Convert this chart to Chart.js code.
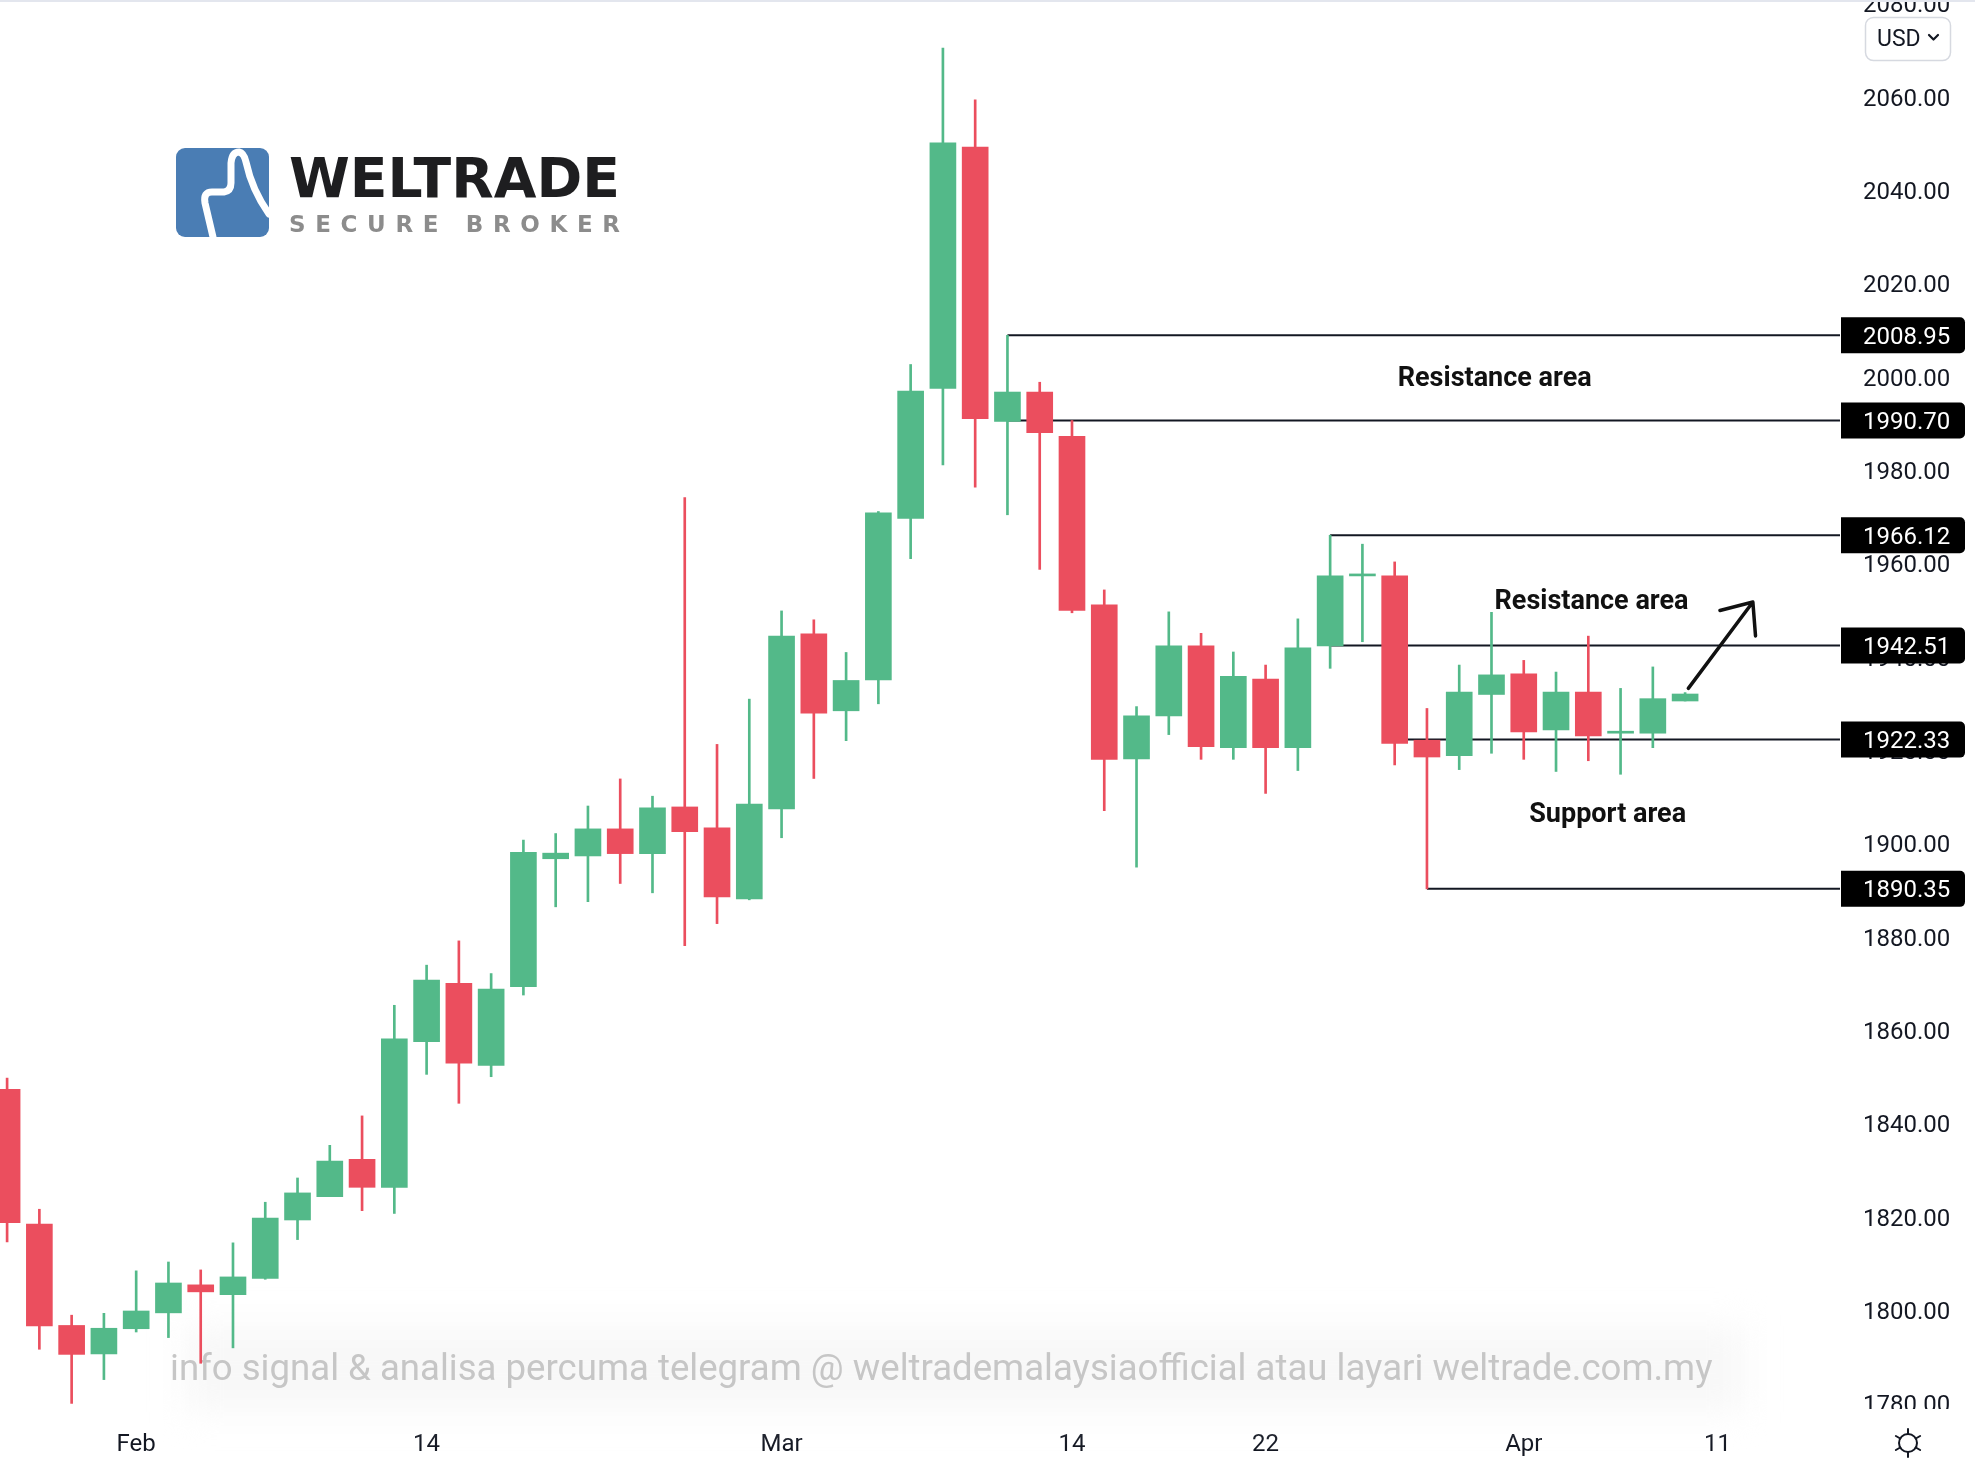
<!DOCTYPE html>
<html>
<head>
<meta charset="utf-8">
<title>Gold daily</title>
<script src="https://cdn.jsdelivr.net/npm/chart.js@4.4.1/dist/chart.umd.min.js"></script>
<style>
  html, body { margin:0; padding:0; background:#fff; overflow:hidden; }
  canvas { display:block; }
</style>
</head>
<body>
<canvas id="chart" width="1975" height="1472"></canvas>
<script>
/* Gold daily candles with support / resistance levels */

const DAYS = ["Jan 26","Jan 27","Jan 28","Jan 31","Feb 1","Feb 2","Feb 3","Feb 4","Feb 7","Feb 8","Feb 9","Feb 10","Feb 11",
  "Feb 14","Feb 15","Feb 16","Feb 17","Feb 18","Feb 21","Feb 22","Feb 23","Feb 24","Feb 25","Feb 28",
  "Mar 1","Mar 2","Mar 3","Mar 4","Mar 7","Mar 8","Mar 9","Mar 10","Mar 11","Mar 14","Mar 15","Mar 16","Mar 17","Mar 18",
  "Mar 21","Mar 22","Mar 23","Mar 24","Mar 25","Mar 28","Mar 29","Mar 30","Mar 31",
  "Apr 1","Apr 4","Apr 5","Apr 6","Apr 7","Apr 8"];

const OPEN = [1847.4,1818.5,1796.8,1790.7,1796.1,1799.5,1805.5,1803.4,1806.9,1819.4,1824.4,1832.4,1826.4,
  1857.6,1870.1,1852.5,1869.4,1896.8,1897.4,1903.2,1897.9,1907.9,1903.4,1888.2,
  1907.5,1945.0,1928.5,1935.1,1969.7,1997.6,2049.3,1990.5,1996.8,1987.3,1951.2,1918.2,1927.4,1942.4,
  1920.6,1935.3,1920.6,1942.4,1957.4,1957.4,1922.2,1918.9,1932.0,
  1936.4,1924.4,1932.5,1923.7,1923.7,1930.6];
const HIGH = [1849.8,1821.7,1799.0,1799.4,1808.5,1810.4,1808.7,1814.5,1823.2,1828.4,1835.4,1841.7,1865.4,
  1874.0,1879.2,1872.2,1900.8,1902.2,1908.1,1913.9,1910.2,1974.2,1921.3,1931.0,
  1949.9,1948.0,1941.0,1971.2,2002.7,2070.5,2059.4,2008.95,1998.9,1990.7,1954.4,1929.4,1949.7,1945.1,
  1941.1,1938.3,1948.2,1966.12,1964.2,1960.4,1929.0,1938.3,1949.6,
  1939.3,1936.8,1944.5,1933.3,1937.9,1932.4];
const LOW = [1814.7,1791.7,1780.1,1785.2,1795.4,1794.2,1788.7,1792.0,1806.7,1815.2,1824.4,1821.4,1820.8,
  1850.6,1844.4,1850.1,1867.6,1886.5,1887.6,1891.5,1889.5,1878.2,1882.9,1888.0,
  1901.3,1914.0,1922.1,1930.0,1961.1,1981.2,1976.4,1970.5,1958.8,1949.5,1907.1,1895.0,1923.4,1918.1,
  1918.1,1910.8,1915.7,1937.6,1943.3,1916.9,1890.35,1915.9,1919.4,
  1918.1,1915.5,1917.8,1914.9,1920.6,1930.6];
const CLOSE = [1818.8,1796.7,1790.6,1796.2,1799.9,1805.9,1804.0,1807.2,1819.8,1825.2,1832.0,1826.4,1858.2,
  1870.8,1853.0,1868.9,1898.2,1898.0,1903.2,1897.9,1907.7,1902.6,1888.6,1908.5,
  1944.5,1928.0,1935.0,1970.9,1997.0,2050.2,1991.1,1996.8,1988.1,1950.0,1918.1,1927.4,1942.4,1920.8,
  1935.9,1920.6,1942.0,1957.4,1957.5,1921.5,1918.6,1932.5,1936.2,
  1924.0,1932.5,1923.1,1923.8,1931.1,1932.1];

// horizontal levels and the day (index in DAYS) each one starts from
const LEVELS     = [2008.95, 1990.70, 1966.12, 1942.51, 1922.33, 1890.35];
const LEVEL_FROM = [31, 31, 41, 41, 43, 44];

// time axis labels (index 53 = Apr 11, the next session)
const X_TICK_POS  = [4, 13, 24, 33, 39, 47, 53];
const X_TICK_TEXT = ["Feb", "14", "Mar", "14", "22", "Apr", "11"];

const NOTES = ["Resistance area", "Resistance area", "Support area"];
const WATERMARK = "info signal & analisa percuma telegram @ weltrademalaysiaofficial atau layari weltrade.com.my";

const X_MIN = -0.22, X_MAX = 56.8;
const Y_MIN = 1778.9, Y_MAX = 2080.8;

const UP = "#53b989", DOWN = "#eb4e5e", INK = "#131722";
const FONT = "Roboto";

const candleColors = OPEN.map((o, i) => CLOSE[i] >= o ? UP : DOWN);

function fitSize(ctx, text, weight, family, width, base){
  ctx.font = `${weight} ${base}px ${family}`;
  return base * width / ctx.measureText(text).width;
}

const overlay = {
  id: "overlay",
  beforeDatasetsDraw(chart){
    const ctx = chart.ctx;
    // soft band behind the watermark
    ctx.save();
    ctx.filter = "blur(16px)";
    ctx.fillStyle = "#f8f8f8";
    ctx.fillRect(185, 1326, 1560, 86);
    ctx.restore();
    ctx.save();
    const s = fitSize(ctx, WATERMARK, "400", FONT, 1543, 36);
    ctx.font = `400 ${s}px ${FONT}`;
    ctx.fillStyle = "#c6c6c6";
    ctx.textBaseline = "middle";
    ctx.fillText(WATERMARK, 170, 1371);
    ctx.restore();
  },
  afterDraw(chart){
    const {ctx, chartArea, scales:{x, y}} = chart;
    ctx.save();

    // price scale is clipped by the time axis
    ctx.fillStyle = "#fff";
    ctx.fillRect(chartArea.right, chartArea.bottom, chart.width - chartArea.right, chart.height - chartArea.bottom);

    // level price tags
    LEVELS.forEach(v => {
      const py = y.getPixelForValue(v);
      ctx.fillStyle = "#000";
      ctx.beginPath();
      ctx.roundRect(chartArea.right + 1, py - 18, 124, 36, [0, 5, 5, 0]);
      ctx.fill();
      ctx.fillStyle = "#fff";
      ctx.font = `24px ${FONT}`;
      ctx.textAlign = "left";
      ctx.textBaseline = "middle";
      ctx.fillText(v.toFixed(2), chartArea.right + 23, py + 2.5);
    });

    // notes between the levels
    const notePos = [[46.1, (LEVELS[0] + LEVELS[1]) / 2], [49.1, 1952.0], [49.6, (LEVELS[4] + LEVELS[5]) / 2]];
    ctx.fillStyle = "#111";
    ctx.textAlign = "center";
    ctx.textBaseline = "middle";
    NOTES.forEach((t, i) => {
      const w = t.startsWith("Res") ? 194 : 157;
      const s = fitSize(ctx, t, "bold", FONT, w, 27);
      ctx.font = `bold ${s}px ${FONT}`;
      ctx.fillText(t, x.getPixelForValue(notePos[i][0]), y.getPixelForValue(notePos[i][1]) + 1);
    });

    // arrow off the last candle
    const x0 = x.getPixelForValue(52.1), y0 = y.getPixelForValue(1933.3);
    const x1 = x.getPixelForValue(54.1), y1 = y.getPixelForValue(1951.8);
    const ang = Math.atan2(y0 - y1, x0 - x1);
    ctx.strokeStyle = "#111";
    ctx.lineWidth = 3.5;
    ctx.lineCap = "round";
    ctx.lineJoin = "round";
    ctx.beginPath();
    ctx.moveTo(x0, y0); ctx.lineTo(x1, y1);
    ctx.moveTo(x1 + 34 * Math.cos(ang + 0.68), y1 + 34 * Math.sin(ang + 0.68));
    ctx.lineTo(x1, y1);
    ctx.lineTo(x1 + 34 * Math.cos(ang - 0.72), y1 + 34 * Math.sin(ang - 0.72));
    ctx.stroke();

    // logo
    ctx.fillStyle = "#4a7db4";
    ctx.beginPath(); ctx.roundRect(176, 148, 93, 89, 9); ctx.fill();
    ctx.strokeStyle = "#fff";
    ctx.lineWidth = 7;
    ctx.beginPath();
    ctx.moveTo(213, 237);
    ctx.lineTo(205, 203);
    ctx.quadraticCurveTo(203, 192, 212, 192);
    ctx.lineTo(224, 192);
    ctx.quadraticCurveTo(231, 191, 231, 183);
    ctx.lineTo(231, 163);
    ctx.quadraticCurveTo(232, 152, 239, 152);
    ctx.quadraticCurveTo(244, 153, 246, 162);
    ctx.quadraticCurveTo(252, 190, 269, 214);
    ctx.stroke();

    ctx.textAlign = "left";
    ctx.textBaseline = "alphabetic";
    ctx.fillStyle = "#1e1e20";
    let s = fitSize(ctx, "WELTRADE", "bold", '"DejaVu Sans"', 331, 54);
    ctx.font = `bold ${s}px "DejaVu Sans"`;
    ctx.fillText("WELTRADE", 289, 197);
    ctx.font = `bold 23px "DejaVu Sans"`;
    const sub = "SECURE BROKER";
    const natural = ctx.measureText(sub).width;
    const gap = (331 - natural) / (sub.length - 1);
    ctx.fillStyle = "#8c8c8c";
    let cx = 289;
    for (const ch of sub){
      ctx.fillText(ch, cx, 232);
      cx += ctx.measureText(ch).width + gap;
    }

    // currency selector
    ctx.strokeStyle = "#d6d9e0";
    ctx.lineWidth = 1.5;
    ctx.beginPath(); ctx.roundRect(1865.5, 17.5, 85, 43, 8); ctx.stroke();
    ctx.fillStyle = INK;
    ctx.font = `23px ${FONT}`;
    ctx.textBaseline = "middle";
    ctx.fillText("USD", 1877, 40);
    ctx.lineWidth = 2.2;
    ctx.strokeStyle = INK;
    ctx.beginPath(); ctx.moveTo(1929, 35); ctx.lineTo(1933.5, 39.5); ctx.lineTo(1938, 35); ctx.stroke();

    // settings glyph
    const gx = 1908, gy = 1443;
    ctx.lineWidth = 2;
    ctx.beginPath(); ctx.arc(gx, gy, 9, 0, Math.PI * 2); ctx.stroke();
    ctx.beginPath();
    [90, 270, 30, 150, 210, 330].forEach(a => {
      const r = a * Math.PI / 180;
      ctx.moveTo(gx + 9 * Math.cos(r), gy - 9 * Math.sin(r));
      ctx.lineTo(gx + 14 * Math.cos(r), gy - 14 * Math.sin(r));
    });
    ctx.stroke();

    // thin top border
    ctx.fillStyle = "#e3e6ee";
    ctx.fillRect(0, 0, chart.width, 2);
    ctx.restore();
  }
};

const idx = DAYS.map((d, i) => i);

const datasets = [
  {
    type: "bar", label: "body",
    data: idx.map(i => ({x: i, y: [OPEN[i], CLOSE[i]]})),
    backgroundColor: candleColors, borderWidth: 0,
    barThickness: 26, minBarLength: 2, grouped: false, order: 0
  },
  {
    type: "bar", label: "wick",
    data: idx.map(i => ({x: i, y: [LOW[i], HIGH[i]]})),
    backgroundColor: candleColors, borderWidth: 0,
    barThickness: 2, grouped: false, order: 1
  },
  ...LEVELS.map((v, k) => ({
    type: "line", label: "level " + v,
    data: [{x: LEVEL_FROM[k], y: v}, {x: X_MAX, y: v}],
    borderColor: INK, borderWidth: 2, pointRadius: 0, order: 2
  }))
];

new Chart(document.getElementById("chart"), {
  type: "bar",
  data: { datasets },
  plugins: [overlay],
  options: {
    responsive: false,
    animation: false,
    devicePixelRatio: 1,
    layout: { padding: 0 },
    plugins: { legend: { display: false }, tooltip: { enabled: false } },
    scales: {
      x: {
        type: "linear", min: X_MIN, max: X_MAX, offset: false,
        grid: { display: false, drawTicks: false },
        border: { display: false },
        afterBuildTicks: s => { s.ticks = X_TICK_POS.map(v => ({value: v})); },
        ticks: {
          autoSkip: false, maxRotation: 0, padding: 22,
          color: INK, font: { family: FONT, size: 24 },
          callback: v => X_TICK_TEXT[X_TICK_POS.indexOf(v)] ?? ""
        },
        afterFit: s => { s.height = 63; s.paddingLeft = 0; s.paddingRight = 0; }
      },
      y: {
        type: "linear", position: "right", min: Y_MIN, max: Y_MAX,
        grid: { display: false, drawTicks: false },
        border: { display: false },
        ticks: {
          stepSize: 20, includeBounds: false, maxTicksLimit: 30, padding: 23, labelOffset: 2.5,
          color: INK, font: { family: FONT, size: 24 },
          callback: v => v.toFixed(2)
        },
        afterFit: s => { s.width = 135; s.paddingTop = 0; s.paddingBottom = 0; }
      }
    }
  }
});
</script>
</body>
</html>
